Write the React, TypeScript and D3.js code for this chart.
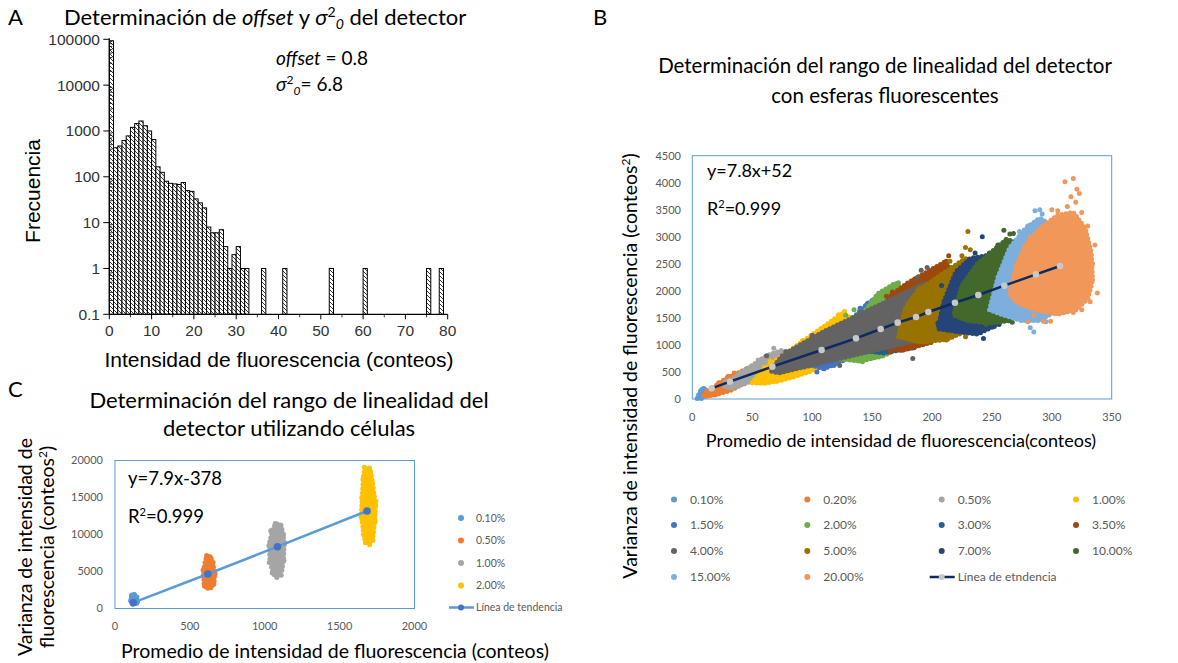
import React from "react";
import * as d3 from "d3";

type P = [number, number];

const FONT_C = "Lato, 'Open Sans', sans-serif";
const FONT_A = "'Liberation Sans', Arial, sans-serif";

// ---------------- Panel A : histogram ----------------
const histStart = [
  0, 1, 2, 3, 4, 5, 6, 7, 8, 9, 10, 11, 12, 13, 14, 15, 16, 17, 18, 19, 20,
  21, 22, 23, 24, 25, 26, 27, 28, 29, 30, 31, 32, 36, 41, 52, 60, 75, 78,
];
const histFreq = [
  93000, 430, 470, 620, 780, 1200, 1450, 1650, 1300, 1000, 650, 165, 125, 80,
  72, 70, 68, 75, 50, 48, 33, 27, 21, 8, 6, 6, 7, 3, 1, 2, 3, 1, 1, 1, 1, 1, 1,
  1, 1,
];
const aXTicks = [0, 10, 20, 30, 40, 50, 60, 70, 80];
const aXMinor = [5, 15, 25, 35, 45, 55, 65, 75];
const aYTicks = [0.1, 1, 10, 100, 1000, 10000, 100000];
const aYTickLabels = ["0.1", "1", "10", "100", "1000", "10000", "100000"];

// ---------------- Panel B : beads ----------------
const bSeries = [
  "0.10%", "0.20%", "0.50%", "1.00%", "1.50%", "2.00%", "3.00%", "3.50%",
  "4.00%", "5.00%", "7.00%", "10.00%", "15.00%", "20.00%",
];
const bColors = [
  "#5B9BD5", "#ED7D31", "#A5A5A5", "#FFC000", "#4472C4", "#70AD47", "#255E91",
  "#9E480E", "#636363", "#997300", "#264478", "#43682B", "#7CAFDD", "#F1975A",
];
const bXTicks = [0, 50, 100, 150, 200, 250, 300, 350];
const bYTicks = [0, 500, 1000, 1500, 2000, 2500, 3000, 3500, 4000, 4500];

const b010Core: P[] = [[4, 10], [6, 120], [9, 200], [12, 170], [12, 80], [8, 10]];
const b010Dots: P[] = [[5, 30], [7, 150], [10, 190], [12, 120], [6, 80], [13, 60], [8, 175]];
const b020Core: P[] = [[9, 50], [18, 220], [28, 380], [42, 520], [47, 420], [44, 300], [32, 160], [18, 70]];
const b020Dots: P[] = [[12, 150], [16, 110], [22, 300], [26, 200], [35, 480], [40, 350], [45, 560], [48, 450], [30, 420], [20, 90]];
const b050Core: P[] = [[25, 250], [35, 400], [50, 620], [62, 800], [75, 900], [78, 780], [70, 600], [58, 420], [45, 290], [32, 200]];
const b050Dots: P[] = [[28, 330], [38, 250], [45, 520], [55, 720], [60, 550], [68, 940], [74, 720], [80, 860], [65, 480], [52, 380], [40, 470]];
const b100Core: P[] = [[50, 300], [60, 560], [80, 800], [100, 1050], [115, 1300], [125, 1580], [132, 1500], [135, 1150], [125, 850], [110, 620], [95, 480], [75, 350], [60, 290]];
const b100Dots: P[] = [[55, 340], [60, 580], [70, 330], [80, 420], [88, 450], [95, 520], [105, 580], [112, 650], [100, 980], [92, 1080], [118, 1440], [122, 1560], [127, 1620], [130, 1450], [65, 700], [75, 760], [85, 880], [108, 1150], [138, 1180], [62, 470]];
const b150Core: P[] = [[95, 650], [115, 1000], [130, 1400], [148, 1800], [155, 1600], [160, 1200], [150, 950], [130, 750], [110, 560]];
const b150Dots: P[] = [[104, 500], [110, 560], [118, 620], [122, 800], [128, 1350], [133, 1460], [146, 1760], [150, 1820], [156, 1000], [148, 900], [140, 1680], [160, 1400]];
const b200Core: P[] = [[115, 760], [135, 1200], [155, 1950], [170, 2150], [180, 1900], [190, 1500], [185, 1100], [160, 800], [140, 700]];
const b200Dots: P[] = [[142, 690], [150, 760], [156, 840], [168, 2110], [172, 2150], [152, 1850], [157, 1940], [135, 1650], [128, 1550], [180, 1100], [188, 1300]];
const b300Core: P[] = [[140, 900], [160, 1450], [180, 1800], [195, 1700], [200, 1200], [185, 950], [160, 850]];
const b300Dots: P[] = [[185, 950], [192, 1020], [198, 1150], [175, 1950], [160, 1750], [145, 1500]];
const b350Core: P[] = [[150, 1000], [165, 1900], [180, 2150], [205, 2350], [212, 2550], [220, 2100], [222, 1700], [210, 1300], [200, 1050], [175, 900]];
const b350Dots: P[] = [[162, 1900], [167, 1980], [180, 2120], [185, 2200], [165, 870], [168, 960], [196, 1050], [203, 1150], [210, 2450], [212, 2550], [214, 2650], [220, 1500], [208, 1250]];
const b400Core: P[] = [[65, 520], [75, 800], [90, 1000], [110, 1250], [130, 1450], [150, 1650], [165, 1800], [180, 1950], [195, 2150], [205, 2050], [212, 1700], [215, 1350], [205, 1200], [190, 1100], [170, 1050], [150, 950], [130, 850], [110, 720], [90, 600], [72, 480]];
const b400Dots: P[] = [[62, 800], [66, 600], [78, 880], [184, 750], [123, 620], [191, 2380], [196, 2430], [188, 2250], [100, 1180], [140, 1600], [160, 960], [200, 1150], [214, 1400], [84, 560]];
const b500Core: P[] = [[172, 1150], [178, 1700], [188, 2000], [205, 2250], [218, 2450], [228, 2600], [238, 2450], [242, 2100], [238, 1600], [228, 1250], [212, 1100], [190, 1050]];
const b500Dots: P[] = [[230, 3100], [228, 2800], [232, 2760], [225, 2650], [235, 2350], [242, 2150], [240, 1700], [212, 1090], [200, 1130], [186, 1250], [178, 1550], [228, 1150], [235, 1280], [190, 2050], [215, 2550]];
const b700Core: P[] = [[205, 1300], [210, 1800], [220, 2350], [232, 2600], [245, 2650], [255, 2500], [262, 2100], [260, 1650], [252, 1350], [238, 1200], [220, 1250]];
const b700Dots: P[] = [[242, 3000], [243, 1120], [252, 1340], [256, 1380], [236, 2700], [248, 2700], [258, 2450], [262, 1950], [215, 1300], [205, 1400], [208, 2100], [238, 1230]];
const b1000Core: P[] = [[218, 1550], [225, 2100], [238, 2500], [250, 2700], [262, 2950], [270, 2900], [275, 2400], [272, 1800], [265, 1450], [248, 1400], [230, 1450]];
const b1000Dots: P[] = [[260, 3120], [265, 3050], [268, 3060], [262, 2950], [272, 2700], [276, 2300], [270, 1500], [267, 1420], [245, 1380], [232, 1450], [222, 1700], [255, 2850]];
const b1500Core: P[] = [[248, 1650], [255, 2250], [265, 2800], [278, 3150], [290, 3350], [300, 3200], [308, 2700], [310, 2000], [305, 1650], [290, 1450], [275, 1450], [260, 1550]];
const b1500Dots: P[] = [[286, 3480], [290, 3500], [292, 3420], [280, 3200], [300, 3300], [285, 1240], [282, 1320], [307, 1600], [310, 1620], [295, 1430], [265, 1550], [252, 1650], [273, 3100], [310, 2300]];
const b2000Core: P[] = [[265, 1950], [270, 2450], [278, 2850], [290, 3150], [305, 3400], [318, 3450], [328, 3150], [333, 2700], [334, 2200], [330, 1850], [320, 1650], [305, 1570], [292, 1620], [280, 1700], [270, 1800]];
const b2000Dots: P[] = [[311, 4020], [318, 4080], [321, 3880], [323, 3800], [316, 3740], [320, 3640], [313, 3560], [325, 3450], [330, 3200], [336, 2850], [338, 1960], [332, 1800], [325, 1650], [318, 1600], [299, 1440], [293, 1440], [280, 1430], [285, 1550], [268, 1900], [270, 2200], [282, 3000], [300, 3500], [305, 3480], [334, 2500]];

const bCores = [b010Core, b020Core, b050Core, b100Core, b150Core, b200Core, b300Core, b350Core, b400Core, b500Core, b700Core, b1000Core, b1500Core, b2000Core];
const bDots = [b010Dots, b020Dots, b050Dots, b100Dots, b150Dots, b200Dots, b300Dots, b350Dots, b400Dots, b500Dots, b700Dots, b1000Dots, b1500Dots, b2000Dots];

const bTrendX = [16.1, 31.4, 66.8, 107.9, 136.6, 157.2, 171.4, 186.7, 197.0, 219.2, 238.7, 260.4, 286.8, 306.9];
const bTrendY = [197, 320, 598, 906, 1122, 1294, 1412, 1516, 1609, 1781, 1923, 2096, 2305, 2459];

// ---------------- Panel C : cells ----------------
const cSeries = ["0.10%", "0.50%", "1.00%", "2.00%"];
const cColors = ["#5B9BD5", "#ED7D31", "#A5A5A5", "#FFC000"];
const cXTicks = [0, 500, 1000, 1500, 2000];
const cYTicks = [0, 5000, 10000, 15000, 20000];

const c010Core: P[] = [[115, 1900], [135, 1850], [148, 1500], [150, 1000], [145, 650], [120, 600], [105, 800], [108, 1400]];
const c010Dots: P[] = [[110, 1800], [130, 1900], [145, 1300], [150, 900], [118, 650], [105, 1100], [140, 700]];
const c050Core: P[] = [[615, 7100], [640, 6900], [655, 6000], [650, 5200], [665, 4500], [662, 3600], [650, 2900], [615, 2800], [595, 3300], [598, 4200], [590, 5000], [600, 5800], [605, 6600]];
const c050Dots: P[] = [[612, 7150], [635, 7000], [655, 6200], [668, 4700], [660, 3300], [640, 2800], [598, 3000], [592, 4500], [600, 5600], [588, 5200], [620, 2750]];
const c100Core: P[] = [[1075, 11500], [1110, 11200], [1120, 10200], [1130, 9000], [1115, 8000], [1125, 6800], [1115, 5200], [1100, 4400], [1070, 4300], [1050, 5200], [1035, 6500], [1045, 7600], [1030, 8700], [1045, 9800], [1055, 10800]];
const c100Dots: P[] = [[1070, 11500], [1105, 11300], [1125, 10000], [1132, 8800], [1128, 6500], [1110, 4500], [1080, 4200], [1050, 4800], [1030, 6200], [1028, 8500], [1040, 10500]];
const c200Core: P[] = [[1670, 19000], [1705, 18900], [1715, 17500], [1720, 15500], [1740, 14000], [1735, 12000], [1715, 10500], [1720, 9300], [1695, 8700], [1670, 9000], [1665, 10500], [1645, 12500], [1650, 14500], [1655, 16500], [1660, 18000]];
const c200Dots: P[] = [[1665, 19100], [1700, 19000], [1718, 17000], [1742, 14500], [1738, 11800], [1722, 9200], [1700, 8600], [1672, 8900], [1660, 10000], [1642, 12500], [1648, 15000], [1656, 17500]];

const cCores = [c010Core, c050Core, c100Core, c200Core];
const cDots = [c010Dots, c050Dots, c100Dots, c200Dots];

const cTrendX = [122, 620, 1085, 1683];
const cTrendY = [785, 4660, 8350, 13180];

function Cloud({ core, dots, color, x, y, r }: any) {
  const pts: P[] = core.map(([a, b]: P) => [x(a), y(b)] as P);
  const hull = d3.polygonHull(pts) || pts;
  const d = "M" + hull.map((p) => p[0].toFixed(1) + "," + p[1].toFixed(1)).join("L") + "Z";
  return (
    <g>
      <path d={d} fill={color} stroke="none" />
      <path d={d} fill="none" stroke={color} strokeWidth={2 * r} strokeLinecap="round" strokeDasharray="0 4.2" />
      {dots.map(([a, b]: P, i: number) => (
        <circle key={i} cx={x(a)} cy={y(b)} r={r} fill={color} />
      ))}
    </g>
  );
}

export default function App() {
  const xA = d3.scaleLinear().domain([0, 80]).range([109.3, 447.7]);
  const yA = d3.scaleLog().domain([0.1, 100000]).range([314.3, 39.3]);
  const xB = d3.scaleLinear().domain([0, 350]).range([692.3, 1111.7]);
  const yB = d3.scaleLinear().domain([0, 4500]).range([399, 155.7]);
  const xC = d3.scaleLinear().domain([0, 2000]).range([115, 414.5]);
  const yC = d3.scaleLinear().domain([0, 20000]).range([608.5, 460.5]);

  const aMinorY: number[] = [];
  aYTicks.slice(0, -1).forEach((d) => {
    for (let m = 2; m <= 9; m++) aMinorY.push(d * m);
  });

  const bLine = d3.line<number>().x((_, i) => xB(bTrendX[i])).y((d) => yB(d));
  const cLine = d3.line<number>().x((_, i) => xC(cTrendX[i])).y((d) => yC(d));

  const bLegendCols = [674, 807.3, 941.7, 1076];
  const bLegendRows = [499.5, 525, 551, 577];
  const cLegendRows = [518, 540.5, 563, 585.5, 607.5];

  return (
    <svg width={1178} height={663} style={{ display: "block", position: "absolute", left: 0, top: 0, background: "#fff" }}>
      <defs>
        <pattern id="hatch" width="4" height="4" patternUnits="userSpaceOnUse">
          <rect width="4" height="4" fill="#fff" />
          <path d="M-1,-1 L5,5 M-1,3 L1,5 M3,-1 L5,1" stroke="#222" strokeWidth="0.9" />
        </pattern>
      </defs>

      {/* ================= Panel A ================= */}
      <text x={8} y={25} fontFamily={FONT_C} fontSize={22} fill="#000">A</text>
      <text x={64} y={25} fontFamily={FONT_C} fontSize={22} fill="#000">
        Determinación de <tspan fontStyle="italic">offset</tspan> y <tspan fontStyle="italic">σ</tspan>
        <tspan dy={-8} fontSize={14}>2</tspan>
        <tspan dy={12} fontSize={14} fontStyle="italic">0</tspan>
        <tspan dy={-4}> del detector</tspan>
      </text>
      <text x={276} y={65} fontFamily={FONT_C} fontSize={19} fill="#000">
        <tspan fontStyle="italic">offset</tspan> = 0.8
      </text>
      <text x={276} y={91} fontFamily={FONT_C} fontSize={19} fill="#000">
        <tspan fontStyle="italic">σ</tspan>
        <tspan dy={-7} fontSize={12}>2</tspan>
        <tspan dy={11} fontSize={12} fontStyle="italic">0</tspan>
        <tspan dy={-4}>= 6.8</tspan>
      </text>

      {histStart.map((s, i) => (
        <rect
          key={i}
          x={xA(s)}
          y={yA(histFreq[i])}
          width={xA(s + 1) - xA(s)}
          height={yA(0.1) - yA(histFreq[i])}
          fill="url(#hatch)"
          stroke="#000"
          strokeWidth={1}
        />
      ))}

      <line x1={xA(0)} x2={xA(0)} y1={yA(100000) - 1} y2={yA(0.1)} stroke="#000" strokeWidth={1.2} />
      <line x1={xA(0)} x2={xA(80)} y1={yA(0.1)} y2={yA(0.1)} stroke="#000" strokeWidth={1.2} />
      {aYTicks.map((t, i) => (
        <g key={t}>
          <line x1={xA(0) - 6} x2={xA(0)} y1={yA(t)} y2={yA(t)} stroke="#000" />
          <text x={100} y={yA(t)} dy="0.35em" textAnchor="end" fontFamily={FONT_A} fontSize={15.5} fill="#333">
            {aYTickLabels[i]}
          </text>
        </g>
      ))}
      {aMinorY.map((t) => (
        <line key={t} x1={xA(0)} x2={xA(0) + 3} y1={yA(t)} y2={yA(t)} stroke="#000" strokeWidth={0.8} />
      ))}
      {aXTicks.map((t) => (
        <g key={t}>
          <line x1={xA(t)} x2={xA(t)} y1={yA(0.1)} y2={yA(0.1) + 5} stroke="#000" />
          <text x={xA(t)} y={336} textAnchor="middle" fontFamily={FONT_A} fontSize={15.5} fill="#333">
            {t}
          </text>
        </g>
      ))}
      {aXMinor.map((t) => (
        <line key={t} x1={xA(t)} x2={xA(t)} y1={yA(0.1)} y2={yA(0.1) + 3} stroke="#000" strokeWidth={0.8} />
      ))}
      <text x={279} y={367} textAnchor="middle" fontFamily={FONT_A} fontSize={21} fill="#000">
        Intensidad de fluorescencia (conteos)
      </text>
      <text transform="translate(40,191) rotate(-90)" textAnchor="middle" fontFamily={FONT_A} fontSize={21} fill="#000">
        Frecuencia
      </text>

      {/* ================= Panel B ================= */}
      <text x={593} y={25} fontFamily={FONT_C} fontSize={22} fill="#000">B</text>
      <text x={885} y={73} textAnchor="middle" fontFamily={FONT_C} fontSize={20.5} fill="#000">
        Determinación del rango de linealidad del detector
      </text>
      <text x={885} y={103} textAnchor="middle" fontFamily={FONT_C} fontSize={20.5} fill="#000">
        con esferas fluorescentes
      </text>

      {bSeries.map((s, i) => (
        <Cloud key={s} core={bCores[i]} dots={bDots[i]} color={bColors[i]} x={xB} y={yB} r={2.5} />
      ))}
      <path d={bLine(bTrendY) || ""} fill="none" stroke="#0E2A5E" strokeWidth={2.5} />
      {bTrendY.map((v, i) => (
        <circle key={i} cx={xB(bTrendX[i])} cy={yB(v)} r={3.3} fill="#C8C8C8" />
      ))}

      <rect x={692.3} y={155.7} width={1111.7 - 692.3} height={399 - 155.7} fill="none" stroke="#5B9BD5" strokeWidth={1} />
      <text x={707} y={177} fontFamily={FONT_C} fontSize={18} fill="#000">y=7.8x+52</text>
      <text x={707} y={215} fontFamily={FONT_C} fontSize={18} fill="#000">
        R<tspan dy={-7} fontSize={11}>2</tspan><tspan dy={7}>=0.999</tspan>
      </text>

      {bYTicks.map((t) => (
        <text key={t} x={681} y={yB(t)} dy="0.35em" textAnchor="end" fontFamily={FONT_C} fontSize={11} fill="#595959">
          {t}
        </text>
      ))}
      {bXTicks.map((t) => (
        <text key={t} x={xB(t)} y={421} textAnchor="middle" fontFamily={FONT_C} fontSize={11} fill="#595959">
          {t}
        </text>
      ))}
      <text x={901} y={447} textAnchor="middle" fontFamily={FONT_C} fontSize={18} fill="#000">
        Promedio de intensidad de fluorescencia(conteos)
      </text>
      <text transform="translate(637,366) rotate(-90)" textAnchor="middle" fontFamily={FONT_C} fontSize={19.5} fill="#000">
        Varianza de intensidad de fluorescencia (conteos<tspan dy={-7} fontSize={12}>2</tspan><tspan dy={7}>)</tspan>
      </text>

      {bSeries.map((s, i) => {
        const cx = bLegendCols[i % 4];
        const cy = bLegendRows[Math.floor(i / 4)];
        return (
          <g key={s}>
            <circle cx={cx} cy={cy} r={3} fill={bColors[i]} />
            <text x={cx + 16} y={cy} dy="0.35em" fontFamily={FONT_C} fontSize={12} fill="#595959">
              {s}
            </text>
          </g>
        );
      })}
      <g>
        <line x1={bLegendCols[2] - 12} x2={bLegendCols[2] + 13} y1={bLegendRows[3]} y2={bLegendRows[3]} stroke="#0E2A5E" strokeWidth={2.5} />
        <circle cx={bLegendCols[2]} cy={bLegendRows[3]} r={3} fill="#C8C8C8" />
        <text x={bLegendCols[2] + 16} y={bLegendRows[3]} dy="0.35em" fontFamily={FONT_C} fontSize={12} fill="#595959">
          Línea de etndencia
        </text>
      </g>

      {/* ================= Panel C ================= */}
      <text x={8} y={397} fontFamily={FONT_C} fontSize={22} fill="#000">C</text>
      <text x={289} y={408} textAnchor="middle" fontFamily={FONT_C} fontSize={22} fill="#000">
        Determinación del rango de linealidad del
      </text>
      <text x={289} y={436} textAnchor="middle" fontFamily={FONT_C} fontSize={22} fill="#000">
        detector utilizando células
      </text>

      {cSeries.map((s, i) => (
        <Cloud key={s} core={cCores[i]} dots={cDots[i]} color={cColors[i]} x={xC} y={yC} r={2.5} />
      ))}
      <path d={cLine(cTrendY) || ""} fill="none" stroke="#5B9BD5" strokeWidth={2.5} />
      {cTrendY.map((v, i) => (
        <circle key={i} cx={xC(cTrendX[i])} cy={yC(v)} r={3.8} fill="#4472C4" />
      ))}
      <rect x={115} y={460.5} width={414.5 - 115} height={608.5 - 460.5} fill="none" stroke="#5B9BD5" strokeWidth={1} />
      <text x={128} y={485} fontFamily={FONT_C} fontSize={18.5} fill="#000">y=7.9x-378</text>
      <text x={128} y={523} fontFamily={FONT_C} fontSize={18.5} fill="#000">
        R<tspan dy={-7} fontSize={11}>2</tspan><tspan dy={7}>=0.999</tspan>
      </text>
      {cYTicks.map((t) => (
        <text key={t} x={103} y={yC(t)} dy="0.35em" textAnchor="end" fontFamily={FONT_C} fontSize={11} fill="#595959">
          {t}
        </text>
      ))}
      {cXTicks.map((t) => (
        <text key={t} x={xC(t)} y={630} textAnchor="middle" fontFamily={FONT_C} fontSize={11} fill="#595959">
          {t}
        </text>
      ))}
      <text x={335} y={658} textAnchor="middle" fontFamily={FONT_C} fontSize={19.5} fill="#000">
        Promedio de intensidad de fluorescencia (conteos)
      </text>
      <text transform="translate(32,547) rotate(-90)" textAnchor="middle" fontFamily={FONT_C} fontSize={19.5} fill="#000">
        Varianza de intensidad de
      </text>
      <text transform="translate(54,547) rotate(-90)" textAnchor="middle" fontFamily={FONT_C} fontSize={19.5} fill="#000">
        fluorescencia (conteos<tspan dy={-7} fontSize={12}>2</tspan><tspan dy={7}>)</tspan>
      </text>

      {cSeries.map((s, i) => (
        <g key={s}>
          <circle cx={461} cy={cLegendRows[i]} r={3} fill={cColors[i]} />
          <text x={476} y={cLegendRows[i]} dy="0.35em" fontFamily={FONT_C} fontSize={10.5} fill="#595959">
            {s}
          </text>
        </g>
      ))}
      <line x1={449} x2={474} y1={cLegendRows[4]} y2={cLegendRows[4]} stroke="#5B9BD5" strokeWidth={2.5} />
      <circle cx={461} cy={cLegendRows[4]} r={3} fill="#4472C4" />
      <text x={476} y={cLegendRows[4]} dy="0.35em" fontFamily={FONT_C} fontSize={10.5} fill="#595959">
        Línea de tendencia
      </text>
    </svg>
  );
}
